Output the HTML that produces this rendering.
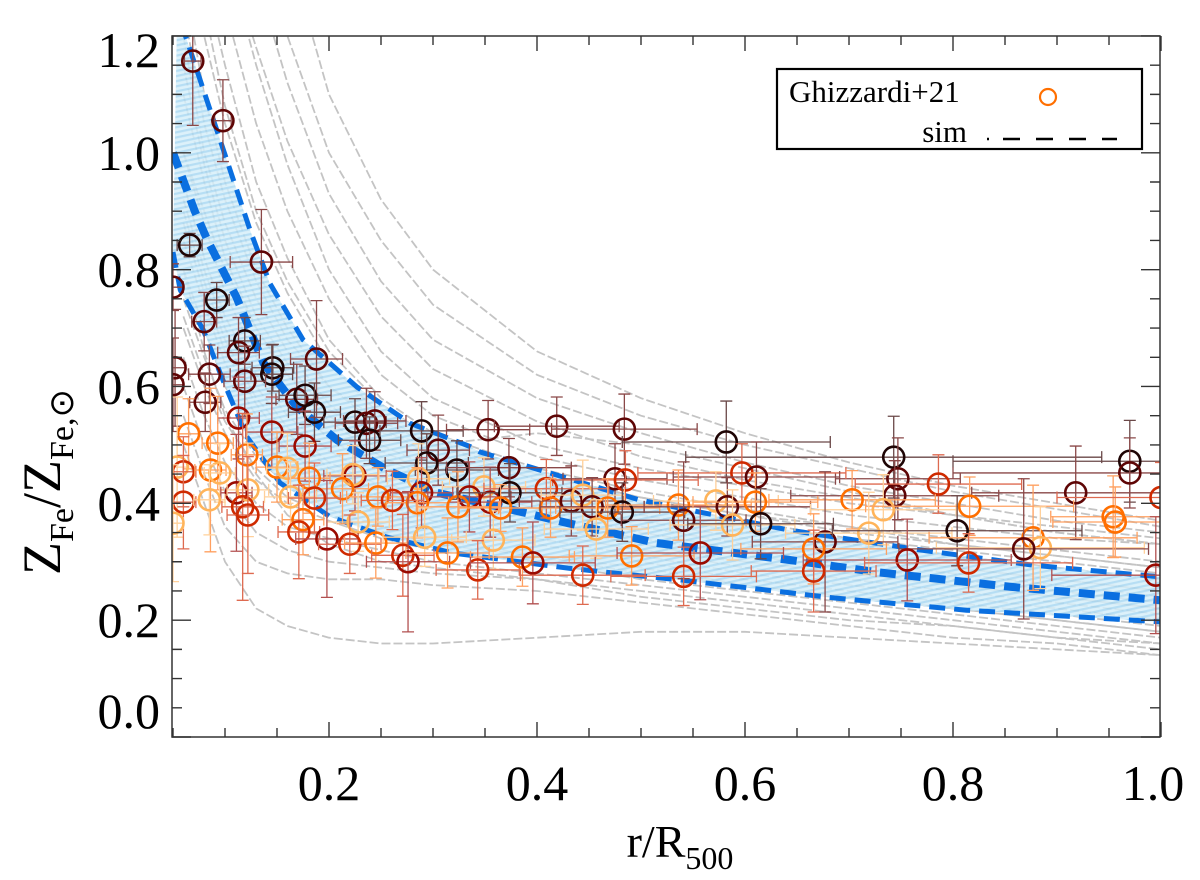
<!DOCTYPE html>
<html><head><meta charset="utf-8"><style>
html,body{margin:0;padding:0;background:#fff;}
svg{display:block;font-family:"Liberation Serif",serif;}
</style></head><body>
<svg id="chart" width="1200" height="880" viewBox="0 0 1200 880">
<defs>
<clipPath id="plotclip"><rect x="172" y="36" width="988" height="701"/></clipPath>
<pattern id="hatch" width="8" height="5" patternUnits="userSpaceOnUse" patternTransform="rotate(-12)">
<rect width="8" height="5" fill="#d6eef9"/><rect width="8" height="2.2" fill="#a9d8f2"/>
</pattern>
</defs>
<g id="plot" clip-path="url(#plotclip)"></g>
<g id="axes"></g>
<text x="680" y="857" font-family="Liberation Serif,serif" font-size="46" text-anchor="middle">r/R<tspan font-size="32" dy="12">500</tspan></text>
<text transform="translate(60,575) rotate(-90)" font-family="Liberation Serif,serif" font-size="54">Z<tspan font-size="34" dy="13">Fe</tspan><tspan dy="-13">/Z</tspan><tspan font-size="34" dy="13">Fe,⊙</tspan></text>
<g>
<rect x="777" y="69" width="365" height="80" fill="#fff" stroke="#000" stroke-width="2.2"/>
<text x="789" y="102" font-family="Liberation Serif,serif" font-size="31">Ghizzardi+21</text>
<circle cx="1048" cy="97" r="8" fill="none" stroke="#ff6f00" stroke-width="2.2"/>
<text x="967" y="142" font-family="Liberation Serif,serif" font-size="31" text-anchor="end">sim</text>
<path d="M987,139h2M1003,139h17M1036,139h17M1069,139h17M1102,139h15" stroke="#000" stroke-width="2.5"/>
</g>
</svg>
<script>
const NS='http://www.w3.org/2000/svg';
// ---- data ----
const simRadii=[0.06,0.08,0.1,0.13,0.16,0.2,0.25,0.3,0.4,0.5,0.6,0.7,0.8,0.9,1.0];
const simProfiles=[
[2.2,2.0,1.8,1.55,1.35,1.1,0.92,0.8,0.66,0.58,0.52,0.47,0.43,0.4,0.37],
[2.0,1.8,1.6,1.4,1.2,1.0,0.85,0.74,0.62,0.55,0.5,0.46,0.42,0.39,0.36],
[1.9,1.7,1.5,1.3,1.12,0.93,0.78,0.68,0.58,0.52,0.47,0.43,0.4,0.37,0.35],
[1.7,1.5,1.35,1.18,1.02,0.86,0.72,0.63,0.54,0.48,0.44,0.41,0.38,0.35,0.33],
[1.8,1.55,1.35,1.15,0.98,0.8,0.66,0.58,0.5,0.46,0.43,0.4,0.38,0.36,0.34],
[1.6,1.4,1.25,1.05,0.9,0.75,0.62,0.55,0.48,0.44,0.41,0.38,0.36,0.34,0.33],
[1.5,1.3,1.15,0.95,0.82,0.68,0.58,0.52,0.46,0.42,0.39,0.36,0.34,0.32,0.30],
[1.4,1.2,1.05,0.88,0.76,0.64,0.55,0.50,0.44,0.40,0.37,0.34,0.32,0.30,0.28],
[1.3,1.1,0.95,0.8,0.7,0.6,0.53,0.48,0.42,0.38,0.35,0.33,0.31,0.29,0.27],
[1.25,1.05,0.92,0.78,0.68,0.6,0.54,0.5,0.45,0.41,0.38,0.36,0.33,0.31,0.29],
[1.2,1.0,0.88,0.75,0.66,0.57,0.5,0.46,0.4,0.37,0.34,0.31,0.29,0.27,0.25],
[1.1,0.95,0.82,0.7,0.62,0.54,0.48,0.44,0.39,0.35,0.32,0.3,0.28,0.26,0.24],
[1.0,0.88,0.76,0.65,0.58,0.51,0.46,0.42,0.37,0.34,0.31,0.29,0.27,0.25,0.23],
[1.0,0.9,0.8,0.7,0.62,0.56,0.52,0.50,0.52,0.50,0.46,0.42,0.38,0.35,0.33],
[0.95,0.82,0.72,0.62,0.55,0.49,0.44,0.40,0.36,0.33,0.30,0.28,0.26,0.24,0.22],
[0.9,0.78,0.68,0.58,0.52,0.46,0.42,0.39,0.35,0.32,0.29,0.27,0.25,0.23,0.21],
[0.88,0.76,0.66,0.57,0.5,0.45,0.41,0.38,0.35,0.32,0.3,0.28,0.26,0.24,0.22],
[0.85,0.74,0.64,0.55,0.49,0.44,0.40,0.37,0.34,0.31,0.28,0.26,0.24,0.22,0.2],
[0.8,0.7,0.6,0.52,0.46,0.42,0.38,0.36,0.33,0.30,0.27,0.25,0.23,0.21,0.19],
[0.8,0.66,0.55,0.45,0.38,0.33,0.30,0.29,0.27,0.24,0.22,0.20,0.19,0.17,0.16],
[0.75,0.65,0.56,0.48,0.43,0.39,0.36,0.34,0.31,0.29,0.26,0.24,0.22,0.2,0.18],
[0.7,0.6,0.52,0.44,0.4,0.37,0.34,0.32,0.3,0.27,0.25,0.23,0.21,0.19,0.17],
[0.65,0.55,0.47,0.40,0.36,0.34,0.32,0.30,0.28,0.26,0.24,0.22,0.20,0.18,0.16],
[0.6,0.5,0.42,0.35,0.32,0.3,0.29,0.28,0.27,0.25,0.23,0.21,0.19,0.17,0.15],
[0.55,0.45,0.36,0.3,0.28,0.27,0.27,0.26,0.25,0.23,0.21,0.19,0.17,0.16,0.14],
[0.5,0.4,0.3,0.22,0.19,0.17,0.16,0.16,0.17,0.18,0.18,0.17,0.16,0.15,0.14],
[1.45,1.25,1.08,0.9,0.78,0.66,0.57,0.51,0.45,0.41,0.38,0.35,0.33,0.31,0.29],
[1.15,0.98,0.85,0.72,0.64,0.55,0.49,0.45,0.4,0.36,0.33,0.31,0.29,0.27,0.25],
[0.92,0.8,0.7,0.6,0.53,0.47,0.43,0.4,0.36,0.33,0.3,0.28,0.26,0.24,0.22],
[0.72,0.62,0.54,0.46,0.41,0.38,0.35,0.33,0.31,0.28,0.26,0.24,0.22,0.2,0.18]
];
const bandUpperX=[0.055,0.062,0.124,0.143,0.175,0.227,0.278,0.336,0.345,0.498,0.643,0.77,0.877,1.0];
const bandUpperY=[1.35,1.2,0.868,0.777,0.68,0.599,0.537,0.497,0.488,0.406,0.354,0.32,0.294,0.274];
const bandMidX=[0.05,0.071,0.083,0.111,0.137,0.169,0.208,0.256,0.304,0.364,0.43,0.515,0.643,0.728,0.856,1.0];
const bandMidY=[1.0,0.9,0.851,0.753,0.64,0.565,0.508,0.457,0.418,0.394,0.366,0.332,0.303,0.282,0.257,0.234];
const bandLowX=[0.05,0.057,0.079,0.098,0.121,0.153,0.201,0.256,0.319,0.43,0.537,0.686,0.813,1.0];
const bandLowY=[0.83,0.765,0.697,0.611,0.514,0.435,0.377,0.342,0.315,0.289,0.269,0.238,0.217,0.197];
const obsX=[0.066,0.135,0.05,0.092,0.080,0.119,0.113,0.052,0.085,0.146,0.145,0.188,0.119,0.05,0.081,0.169,0.177,0.186,0.113,0.145,0.177,0.225,0.236,0.244,0.239,0.289,0.353,0.305,0.294,0.323,0.225,0.065,0.093,0.121,0.054,0.060,0.086,0.095,0.150,0.160,0.223,0.181,0.213,0.286,0.349,0.289,0.335,0.355,0.111,0.122,0.060,0.085,0.117,0.122,0.163,0.186,0.247,0.261,0.285,0.324,0.05,0.175,0.171,0.228,0.198,0.22,0.245,0.292,0.358,0.271,0.276,0.314,0.343,0.419,0.484,0.582,0.743,0.970,0.970,0.747,0.744,0.786,0.918,0.373,0.475,0.485,0.597,0.611,0.409,0.374,0.365,0.413,0.433,0.444,0.453,0.468,0.482,0.536,0.572,0.583,0.610,0.541,0.588,0.615,0.703,0.733,0.816,0.457,0.677,0.666,0.719,0.804,0.877,0.884,0.868,0.954,0.956,0.491,0.386,0.396,0.557,0.756,0.815,0.666,0.444,0.541,0.995,1.0,0.069,0.098];
const obsY=[0.842,0.813,0.77,0.748,0.711,0.678,0.658,0.632,0.621,0.632,0.621,0.647,0.609,0.603,0.573,0.578,0.585,0.556,0.546,0.522,0.498,0.539,0.537,0.541,0.508,0.524,0.526,0.491,0.469,0.457,0.447,0.519,0.503,0.483,0.462,0.454,0.457,0.452,0.462,0.46,0.449,0.443,0.425,0.442,0.428,0.418,0.411,0.402,0.418,0.423,0.402,0.406,0.394,0.38,0.411,0.409,0.411,0.405,0.401,0.394,0.366,0.372,0.351,0.368,0.339,0.33,0.332,0.342,0.337,0.311,0.3,0.315,0.286,0.532,0.527,0.505,0.479,0.472,0.452,0.442,0.413,0.433,0.418,0.461,0.442,0.44,0.452,0.445,0.425,0.418,0.392,0.392,0.404,0.414,0.394,0.392,0.385,0.397,0.404,0.394,0.402,0.371,0.363,0.365,0.406,0.389,0.395,0.356,0.334,0.322,0.349,0.353,0.341,0.324,0.322,0.377,0.368,0.31,0.308,0.298,0.315,0.303,0.298,0.284,0.277,0.275,0.277,0.41,1.157,1.055];
const obsC=['k','m','m','k','m','k','m','m','m','k','k','m','m','m','m','m','k','k','d','d','d','k','m','m','k','k','m','m','k','k','d','o','o','o','l','r','o','l','o','l','l','o','o','l','l','d','d','d','d','l','r','l','r','r','l','r','o','r','o','o','l','o','r','l','d','r','o','l','l','r','d','o','r','m','m','k','k','k','m','m','m','r','m','m','m','r','r','m','r','k','o','o','m','l','m','o','k','o','l','m','o','m','l','k','o','l','o','l','m','o','l','k','o','l','m','o','o','o','o','d','d','d','r','r','r','r','d','r','m','m'];
const obsXerr=[0.012,0.03,0.01,0.012,0.012,0.015,0.02,0.01,0.02,0.02,0.02,0.025,0.02,0.01,0.015,0.02,0.025,0.025,0.02,0.025,0.025,0.03,0.03,0.03,0.03,0.04,0.04,0.03,0.04,0.04,0.03,0.01,0.015,0.015,0.01,0.012,0.015,0.015,0.02,0.02,0.025,0.02,0.025,0.03,0.04,0.03,0.04,0.04,0.015,0.02,0.012,0.015,0.02,0.02,0.025,0.025,0.03,0.03,0.03,0.04,0.01,0.02,0.02,0.03,0.03,0.03,0.03,0.04,0.04,0.03,0.04,0.04,0.04,0.06,0.07,0.1,0.2,0.17,0.17,0.06,0.1,0.08,0.1,0.06,0.05,0.07,0.1,0.08,0.06,0.05,0.04,0.05,0.05,0.04,0.05,0.05,0.06,0.07,0.06,0.08,0.06,0.06,0.06,0.07,0.08,0.07,0.1,0.05,0.07,0.07,0.08,0.12,0.1,0.1,0.12,0.06,0.06,0.06,0.05,0.06,0.08,0.1,0.1,0.06,0.06,0.07,0.1,0.1,0.008,0.008];
const obsYerr=[0.02,0.09,0.04,0.03,0.05,0.04,0.06,0.1,0.05,0.04,0.05,0.1,0.06,0.08,0.05,0.06,0.05,0.05,0.07,0.06,0.06,0.04,0.06,0.05,0.04,0.05,0.05,0.06,0.05,0.05,0.06,0.06,0.08,0.07,0.12,0.06,0.14,0.05,0.06,0.06,0.05,0.06,0.06,0.06,0.05,0.06,0.06,0.06,0.1,0.08,0.08,0.06,0.16,0.1,0.06,0.06,0.05,0.05,0.06,0.06,0.1,0.06,0.08,0.05,0.1,0.05,0.06,0.05,0.05,0.07,0.12,0.06,0.05,0.05,0.06,0.07,0.07,0.07,0.06,0.07,0.06,0.05,0.08,0.05,0.06,0.05,0.05,0.06,0.05,0.05,0.04,0.05,0.06,0.06,0.05,0.05,0.05,0.06,0.05,0.05,0.05,0.1,0.06,0.06,0.05,0.06,0.05,0.05,0.12,0.06,0.07,0.06,0.09,0.07,0.12,0.07,0.06,0.05,0.05,0.07,0.08,0.07,0.05,0.07,0.05,0.05,0.1,0.06,0.11,0.07];
const xTicks=[0.2,0.4,0.6,0.8,1.0];
const xTickLabels=['0.2','0.4','0.6','0.8','1.0'];
const yTicks=[0,0.2,0.4,0.6,0.8,1.0,1.2];
const yTickLabels=['0.0','0.2','0.4','0.6','0.8','1.0','1.2'];
// ---- scales ----
const X0=172,X1=1160,Y0=36,Y1=737;
const sx=v=>121+v*1040;
const sy=v=>737-v*584.2;
const colors={k:'#1e0505',m:'#5e0505',d:'#9a0a00',r:'#cf2a00',o:'#ff6f00',l:'#ffb45a'};
const barColors={k:'#6a4848',m:'#8a4848',d:'#b25050',r:'#de6a50',o:'#ffa060',l:'#ffd09a'};
const plot=document.getElementById('plot');
const axes=document.getElementById('axes');
function mk(tag,attrs,parent){const e=document.createElementNS(NS,tag);for(const k in attrs)e.setAttribute(k,attrs[k]);parent.appendChild(e);return e;}
const simG=mk('g',{},plot);


simProfiles.forEach((p,i)=>{
  const d=p.map((v,j)=>(j?'L':'M')+sx(simRadii[j]).toFixed(1)+','+sy(v).toFixed(1)).join('');
  const e=mk('path',{d:d,fill:'none',stroke:'#c4c4c4','stroke-width':1.8,'stroke-dasharray':'9 3'},simG);
  
  
});
const up=bandUpperX.map((x,i)=>[sx(x),sy(bandUpperY[i])]);
const lo=bandLowX.map((x,i)=>[sx(x),sy(bandLowY[i])]);
const bandPts=up.concat(lo.slice().reverse()).map(p=>p[0].toFixed(1)+','+p[1].toFixed(1)).join(' ');
const band=mk('polygon',{points:bandPts,fill:'url(#hatch)',opacity:0.85},plot);


function line(xs,ys,w,name){
  const d=xs.map((x,i)=>(i?'L':'M')+sx(x).toFixed(1)+','+sy(ys[i]).toFixed(1)).join('');
  const e=mk('path',{d:d,fill:'none',stroke:'#0a6fe0','stroke-width':w,'stroke-dasharray':'16 9'},plot);
  
  
}
line(bandUpperX,bandUpperY,5,'sim-upper-percentile-line');
line(bandLowX,bandLowY,5,'sim-lower-percentile-line');
line(bandMidX,bandMidY,8,'sim-median-line');
const obsG=mk('g',{},plot);


obsX.forEach((x,i)=>{
  const cx=sx(x),cy=sy(obsY[i]),c=obsC[i];
  const g=mk('g',{},obsG);
  
  
  const bc=barColors[c];
  const xl=sx(x-obsXerr[i]),xr=sx(x+obsXerr[i]);
  const yt=sy(obsY[i]+obsYerr[i]),yb=sy(obsY[i]-obsYerr[i]);
  mk('path',{d:`M${xl},${cy}H${xr}M${cx},${yt}V${yb}M${xl},${cy-6}v12M${xr},${cy-6}v12M${cx-6},${yt}h12M${cx-6},${yb}h12`,stroke:bc,'stroke-width':1.3,fill:'none'},g);
  mk('circle',{cx:cx,cy:cy,r:10.5,fill:'none',stroke:colors[c],'stroke-width':2.6},g);
});
const frame=mk('rect',{x:X0,y:Y0,width:X1-X0,height:Y1-Y0,fill:'none',stroke:'#333','stroke-width':1.5},axes);


let td='';
for(let k=1;k<=20;k++){const v=k*0.05;const x=sx(v);if(x<X0+1||x>X1+2)continue;const L=(k%4===0)?15:9;td+=`M${x},${Y1}v${-L}M${x},${Y0}v${L}`;}
for(let k=0;k<=24;k++){const v=k*0.05;const y=sy(v);const L=(k%4===0)?19:10;td+=`M${X0},${y}h${L}M${X1},${y}h${-L}`;}
const ticks=mk('path',{d:td,stroke:'#333','stroke-width':1.4,fill:'none'},axes);


xTicks.forEach((v,i)=>{
  const t=mk('text',{x:sx(v)-(v===1?8:0),y:800,'font-size':50,'font-family':'Liberation Serif, serif','text-anchor':'middle',fill:'#000'},axes);
  t.textContent=xTickLabels[i];
  
  
});
yTicks.forEach((v,i)=>{
  let y=sy(v)+17; if(v===0)y-=26; if(v===1.2)y+=14;
  const t=mk('text',{x:160,y:y,'font-size':50,'font-family':'Liberation Serif, serif','text-anchor':'end',fill:'#000'},axes);
  t.textContent=yTickLabels[i];
  
  
});
</script>
</body></html>
